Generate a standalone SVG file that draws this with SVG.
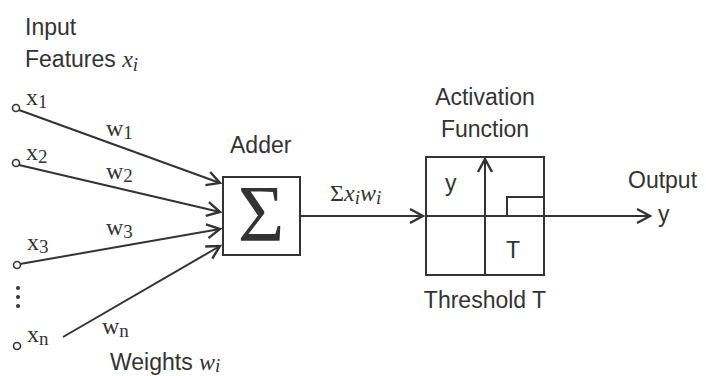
<svg xmlns="http://www.w3.org/2000/svg" width="706" height="376" viewBox="0 0 706 376">
<defs>
<marker id="arr" markerUnits="userSpaceOnUse" markerWidth="18" markerHeight="18" refX="14" refY="8" orient="auto" viewBox="0 0 18 16">
<path d="M1,1 L14,8 L1,15" fill="none" stroke="#333" stroke-width="2.4" stroke-linejoin="miter"/>
</marker>
<style>
.s{font-family:"Liberation Sans",Arial,sans-serif;font-size:23px;fill:#333}
.m{font-family:"Liberation Serif","Times New Roman",serif;font-size:24px;fill:#333}
.sub{font-size:19px}
.it{font-style:italic}
.ln{stroke:#333;stroke-width:2;fill:none}
.c{stroke:#333;stroke-width:1.6;fill:#fff}
</style>
</defs>
<rect width="706" height="376" fill="#fff"/>

<g id="inputs-label">
<text class="s" x="25" y="35">Input</text>
<text class="s" x="25" y="67">Features <tspan class="m it" font-size="25">x</tspan><tspan class="m it sub" dy="4">i</tspan></text>
</g>

<g id="x1">
<circle class="c" cx="16" cy="108" r="3.5"/>
<text class="m" x="26" y="105">x<tspan class="sub" dy="3">1</tspan></text>
</g>
<g id="x2">
<circle class="c" cx="16" cy="163" r="3.5"/>
<text class="m" x="26" y="160">x<tspan class="sub" dy="3">2</tspan></text>
</g>
<g id="x3">
<circle class="c" cx="17" cy="265" r="3.5"/>
<text class="m" x="27" y="250">x<tspan class="sub" dy="3">3</tspan></text>
</g>
<g id="dots">
<circle cx="18" cy="288" r="2" fill="#333"/>
<circle cx="18" cy="297" r="2" fill="#333"/>
<circle cx="18" cy="306" r="2" fill="#333"/>
</g>
<g id="xn">
<circle class="c" cx="17" cy="346" r="3.5"/>
<text class="m" x="27" y="342">x<tspan class="sub" dy="3">n</tspan></text>
</g>

<g id="weights-label">
<text class="s" x="110" y="370">Weights <tspan class="m it" font-size="25">w</tspan><tspan class="m it sub" dy="2">i</tspan></text>
</g>

<g id="adder">
<text class="s" x="230" y="153">Adder</text>
<rect class="ln" x="223" y="177" width="77" height="78"/>
<text x="261" y="241" text-anchor="middle" font-family="Liberation Serif,Times New Roman,serif" font-size="80" fill="#333">Σ</text>
</g>

<g id="activation">
<text class="s" x="485" y="105" text-anchor="middle">Activation</text>
<text class="s" x="485" y="137" text-anchor="middle">Function</text>
<rect class="ln" x="426" y="157" width="118" height="118"/>
<line class="ln" x1="485" y1="275" x2="485" y2="159" marker-end="url(#arr)"/>
<polyline class="ln" points="507,216 507,197 544,197"/>
<text class="s" x="445" y="191">y</text>
<text class="s" x="506" y="258">T</text>
<text class="s" x="485" y="308" text-anchor="middle">Threshold T</text>
</g>

<g id="output">
<text class="s" x="628" y="188">Output</text>
<text class="s" x="658" y="222">y</text>
</g>

<g id="connectors">
<line class="ln" x1="19" y1="110" x2="220" y2="183" marker-end="url(#arr)"/>
<line class="ln" x1="19" y1="165" x2="220" y2="212" marker-end="url(#arr)"/>
<line class="ln" x1="20" y1="264" x2="220" y2="229" marker-end="url(#arr)"/>
<line class="ln" x1="63" y1="337" x2="220" y2="246" marker-end="url(#arr)"/>
<line class="ln" x1="300" y1="216" x2="423" y2="216" marker-end="url(#arr)"/>
<line class="ln" x1="426" y1="216" x2="650" y2="216" marker-end="url(#arr)"/>
<text class="m" x="106" y="136">w<tspan class="sub" dy="3">1</tspan></text>
<text class="m" x="106" y="179">w<tspan class="sub" dy="3">2</tspan></text>
<text class="m" x="106" y="235">w<tspan class="sub" dy="3">3</tspan></text>
<text class="m" x="102" y="334">w<tspan class="sub" dy="3">n</tspan></text>
<text class="m" x="330" y="201" font-size="26">Σ<tspan class="it">x</tspan><tspan class="it sub" dy="3">i</tspan><tspan class="it" dy="-3">w</tspan><tspan class="it sub" dy="3">i</tspan></text>
</g>
</svg>
